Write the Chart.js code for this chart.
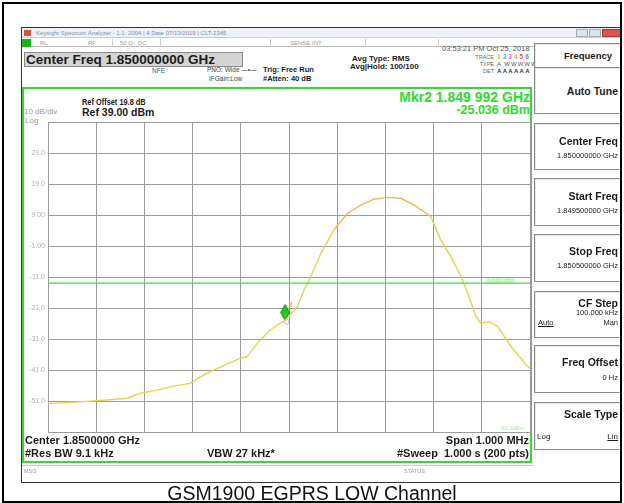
<!DOCTYPE html>
<html>
<head>
<meta charset="utf-8">
<script src="https://cdn.jsdelivr.net/npm/chart.js@4.4.0/dist/chart.umd.min.js"></script>
<style>
  body { margin: 0; width: 624px; height: 503px; position: relative; overflow: hidden; background: #fff;
         font-family: "Liberation Sans", Arial, sans-serif; color: #1c1c1c; }
  .a { position: absolute; white-space: nowrap; line-height: 1; }
  .b { font-weight: bold; }
  .r { text-align: right; }
  .faint { color: #9a9a9a; }
  .box { position: absolute; box-sizing: border-box; }
  .sk { position: absolute; left: 534px; width: 87px; box-sizing: border-box; border: 1px solid #8c8c8c;
        border-right: none; background: #fff; box-shadow: inset 1px 1px 0 #e4e4e4; }
  .skt { position: absolute; right: 3px; font-weight: bold; font-size: 10.5px; white-space: nowrap; line-height: 1; }
  .skv { position: absolute; right: 3px; font-size: 7.5px; white-space: nowrap; line-height: 1; }
  #wrap { position: absolute; left: 0; top: 0; width: 624px; height: 503px; }
</style>
</head>
<body>
<!-- analyzer screenshot -->
<div class="box" style="left:21px;top:27px;width:601px;height:456px;border:1px solid #333;background:#fff;"></div>
<div class="box" style="left:22px;top:28px;width:600px;height:10px;background:#eef2f7;border-bottom:1px solid #c8d0da;"></div>
<div class="box" style="left:24px;top:30px;width:7px;height:6px;background:#d0593a;"></div>
<div class="a" style="left:36px;top:30px;font-size:6px;color:#7f8fa8;">Keysight Spectrum Analyzer - 1.1: 2004 | 4 Date 07/13/2019 | CLT-2345</div>
<div class="box" style="left:576px;top:29px;width:12px;height:8px;background:#dde3ea;border:1px solid #aab;"></div>
<div class="box" style="left:589px;top:29px;width:12px;height:8px;background:#dde3ea;border:1px solid #aab;"></div>
<div class="box" style="left:602px;top:29px;width:19px;height:8px;background:#d9534f;border:1px solid #a33;"></div>
<div class="box" style="left:22px;top:39px;width:512px;height:8px;border-bottom:1px solid #bbb;"></div>
<div class="box" style="left:22px;top:39px;width:9px;height:8px;background:#17b517;"></div>
<div class="a faint" style="left:40px;top:40px;font-size:6px;">RL</div>
<div class="a faint" style="left:88px;top:40px;font-size:6px;">RF</div>
<div class="a faint" style="left:120px;top:40px;font-size:6px;">50 Ω&nbsp;&nbsp;&nbsp;DC</div>
<div class="a faint" style="left:290px;top:40px;font-size:6px;">SENSE:INT</div>
<div class="box" style="left:112px;top:39px;width:1px;height:8px;background:#ccc;"></div>
<div class="box" style="left:160px;top:39px;width:1px;height:8px;background:#ccc;"></div>
<div class="box" style="left:270px;top:39px;width:1px;height:8px;background:#ccc;"></div>
<div class="box" style="left:365px;top:39px;width:1px;height:8px;background:#ccc;"></div>
<div class="box" style="left:438px;top:39px;width:1px;height:8px;background:#ccc;"></div>
<div class="a" style="left:442px;top:45px;font-size:7.5px;color:#555;">03:53:21 PM Oct 25, 2018</div>

<div class="box" style="left:24px;top:52px;width:219px;height:15px;background:#d4d4d4;border:1px solid #8a8a8a;"></div>
<div class="a b" style="left:26px;top:53px;font-size:13.5px;">Center Freq 1.850000000 GHz</div>
<div class="a" style="left:152px;top:68px;font-size:6.5px;color:#555;">NFE</div>
<div class="a" style="left:207px;top:67px;font-size:6.5px;color:#444;">PNO: Wide &#8212;&#8226;&#8212;</div>
<div class="a" style="left:209px;top:76px;font-size:6.5px;color:#444;">IFGain:Low</div>
<div class="a b" style="left:263px;top:66px;font-size:7.5px;">Trig: Free Run</div>
<div class="a b" style="left:263px;top:75px;font-size:7.5px;">#Atten: 40 dB</div>
<div class="a b" style="left:352px;top:55px;font-size:8px;">Avg Type: RMS</div>
<div class="a b" style="left:350px;top:63px;font-size:8px;">Avg|Hold: 100/100</div>
<div class="a r" style="right:130px;top:55px;font-size:5.5px;color:#666;">TRACE</div>
<div class="a r" style="right:130px;top:62px;font-size:5.5px;color:#666;">TYPE</div>
<div class="a r" style="right:130px;top:69px;font-size:5.5px;color:#666;">DET</div>
<div class="a" style="left:497px;top:54px;font-size:6.5px;font-weight:bold;letter-spacing:2px;">
  <span style="color:#d8d040">1</span><span style="color:#40b8e0">2</span><span style="color:#e060e0">3</span><span style="color:#e0b040">4</span><span style="color:#e06060">5</span><span style="color:#8080e0">6</span></div>
<div class="a" style="left:497px;top:61px;font-size:6px;color:#555;letter-spacing:1px;">A WWWWW</div>
<div class="a b" style="left:497px;top:68px;font-size:6px;color:#333;letter-spacing:1.3px;">AAAAAA</div>

<!-- green display panel -->
<div class="box" style="left:22px;top:87px;width:510px;height:376px;border:2px solid #2fdc2f;"></div>
<div class="a b" style="left:82px;top:98px;font-size:8.5px;transform:scaleX(0.87);transform-origin:left;">Ref Offset 19.8 dB</div>
<div class="a b" style="left:82px;top:107px;font-size:10.5px;">Ref 39.00 dBm</div>
<div class="a faint" style="left:24px;top:108px;font-size:8px;">10 dB/div</div>
<div class="a faint" style="left:25px;top:117px;font-size:8px;">Log</div>
<div class="a b r" style="right:94px;top:90px;font-size:14px;color:#2fdc2f;">Mkr2 1.849 992 GHz</div>
<div class="a b r" style="right:94px;top:104px;font-size:12.5px;color:#2fdc2f;">-25.036 dBm</div>
<div class="a" style="left:486px;top:278px;font-size:5.5px;color:#a6e8a6;background:#dff7df;">-13.00 dBm</div>
<div class="a" style="left:500px;top:426px;font-size:5.5px;color:#a6e8a6;">-61.0dBm</div>

<div id="wrap"><canvas id="chart"></canvas></div>

<div class="a b" style="left:25px;top:435px;font-size:11px;">Center 1.8500000 GHz</div>
<div class="a b" style="left:25px;top:448px;font-size:11px;">#Res BW 9.1 kHz</div>
<div class="a b" style="left:207px;top:448px;font-size:11px;">VBW 27 kHz*</div>
<div class="a b r" style="right:95px;top:435px;font-size:11px;">Span 1.000 MHz</div>
<div class="a b r" style="right:95px;top:448px;font-size:11px;">#Sweep&nbsp; 1.000 s (200 pts)</div>

<div class="box" style="left:22px;top:465px;width:512px;height:17px;border-top:1px solid #ccc;"></div>
<div class="a faint" style="left:24px;top:469px;font-size:5.5px;">MSG</div>
<div class="a faint" style="left:404px;top:469px;font-size:5.5px;">STATUS</div>

<!-- softkey panel -->
<div class="sk" style="top:43px;height:25px;"><div class="skt" style="right:9px;top:7px;font-size:9.5px;">Frequency</div></div>
<div class="sk" style="top:67px;height:47px;"><div class="skt" style="top:18px;">Auto Tune</div></div>
<div class="sk" style="top:123px;height:47px;"><div class="skt" style="top:12px;">Center Freq</div><div class="skv" style="top:28px;">1.850000000 GHz</div></div>
<div class="sk" style="top:178px;height:48px;"><div class="skt" style="top:12px;">Start Freq</div><div class="skv" style="top:28px;">1.849500000 GHz</div></div>
<div class="sk" style="top:234px;height:48px;"><div class="skt" style="top:11px;">Stop Freq</div><div class="skv" style="top:27px;">1.850500000 GHz</div></div>
<div class="sk" style="top:291px;height:47px;"><div class="skt" style="top:6px;">CF Step</div><div class="skv" style="top:17px;">100.000 kHz</div>
  <div class="skv" style="top:27px;">Man</div><div class="a" style="left:3px;top:27px;font-size:7.5px;text-decoration:underline;">Auto</div></div>
<div class="sk" style="top:345px;height:48px;"><div class="skt" style="top:11px;">Freq Offset</div><div class="skv" style="top:28px;">0 Hz</div></div>
<div class="sk" style="top:402px;height:48px;"><div class="skt" style="top:6px;">Scale Type</div>
  <div class="a" style="left:2px;top:30px;font-size:8px;">Log</div><div class="skv" style="top:30px;font-size:8px;text-decoration:underline;">Lin</div></div>

<!-- outer frame and caption -->
<div class="box" style="left:2px;top:2px;width:620px;height:501px;border:2px solid #000;"></div>
<div class="a" style="left:0;width:624px;text-align:center;top:484px;font-size:19.5px;color:#111;">GSM1900 EGPRS LOW Channel</div>

<script>
// Trace 1, frequency offset from center (kHz) and level (dBm)
const freqOffsetKHz = [-500, -485, -426, -378, -336, -309, -274, -240, -205, -177, -149, -101, -87, -66, -39, -18, -8,
  17, 31, 45, 66, 93, 121, 149, 176, 204, 232, 260, 294, 315, 336, 357, 371, 388, 398, 415, 433, 461, 495, 500];
const traceDbm = [-51.8, -51.7, -51.2, -50.7, -50.1, -48.5, -47.5, -46.2, -45.3, -42.6, -40.5, -37.2, -36.7, -32.4, -28.1, -25.9, -25.0,
  -20.6, -15.2, -10.9, -3.4, 4.2, 9.5, 12.2, 14.1, 14.7, 14.4, 12.2, 8.5, 0.9, -4.5, -10.9, -16.3, -23.8, -25.9, -25.4, -27.0, -33.5, -39.9, -40.5];

// marker 2 and display line
const markerFreqKHz = [-8];
const markerDbm = [-25.036];
const limitFreqKHz = [-500, 500];
const limitDbm = [-13, -13];

// y axis: ref level 39 dBm, 10 dB/div
const yTickValues = [29, 19, 9, -1, -11, -21, -31, -41, -51];
const yTickLabels = ["29.0", "19.0", "9.00", "-1.00", "-11.0", "-21.0", "-31.0", "-41.0", "-51.0"];

/**
 * Green diamond marker drawn a little above its point, with the small
 * lavender ring on the trace itself
 */
function makeMarkerIcon() {
  const c = document.createElement("canvas");
  c.width = 24;
  c.height = 40;
  const g = c.getContext("2d");
  g.beginPath();
  g.moveTo(12, 4);
  g.lineTo(16.5, 12);
  g.lineTo(12, 20);
  g.lineTo(7.5, 12);
  g.closePath();
  g.fillStyle = "#1fcc1f";
  g.fill();
  g.strokeStyle = "#0c8c0c";
  g.lineWidth = 1;
  g.stroke();
  g.beginPath();
  g.arc(13.5, 21, 2.5, 0, Math.PI * 2);
  g.strokeStyle = "#b7a2e6";
  g.lineWidth = 1;
  g.stroke();
  return c;
}

const markerNumber = {
  id: "markerNumber",
  afterDatasetsDraw(chart) {
    const pt = chart.getDatasetMeta(2).data[0];
    if (!pt) return;
    const ctx = chart.ctx;
    ctx.save();
    ctx.font = "bold 8px 'Liberation Sans', Arial, sans-serif";
    ctx.fillStyle = "#f0a23a";
    ctx.fillText("2", pt.x + 3, pt.y - 14);
    ctx.restore();
  },
};

const gridColor = "#9c9c9c";

new Chart(document.getElementById("chart"), {
  type: "line",
  data: {
    datasets: [
      {
        label: "Display Line",
        data: limitFreqKHz.map((x, i) => ({ x: x, y: limitDbm[i] })),
        borderColor: "#3ee03e",
        borderWidth: 1.3,
        pointRadius: 0,
      },
      {
        label: "Trace 1",
        data: freqOffsetKHz.map((x, i) => ({ x: x, y: traceDbm[i] })),
        borderColor: "#e0d650",
        borderWidth: 1.4,
        pointRadius: 0,
        tension: 0,
        segment: {
          borderColor: (c) => (c.p0.parsed.y > 2 && c.p1.parsed.y > 2 ? "#f2b652" : "#e0d650"),
        },
      },
      {
        label: "Mkr2",
        data: markerFreqKHz.map((x, i) => ({ x: x, y: markerDbm[i] })),
        showLine: false,
        pointStyle: makeMarkerIcon(),
        pointRadius: 10,
      },
    ],
  },
  options: {
    animation: false,
    responsive: true,
    maintainAspectRatio: false,
    layout: { padding: { left: 28, top: 122, right: 94, bottom: 71 } },
    plugins: {
      legend: { display: false },
      tooltip: { enabled: false },
    },
    scales: {
      x: {
        type: "linear",
        min: -500,
        max: 500,
        ticks: { display: false, stepSize: 100 },
        grid: { color: gridColor, drawTicks: false },
        border: { color: gridColor },
        afterFit: (s) => { s.height = 0; },
      },
      y: {
        min: -61,
        max: 39,
        afterBuildTicks: (s) => {
          s.ticks = [-61].concat(yTickValues.slice().reverse(), [39]).map((v) => ({ value: v }));
        },
        ticks: {
          padding: 3,
          color: "#b3b3b3",
          font: { size: 7, family: "'Liberation Sans', Arial, sans-serif" },
          callback: (v) => {
            const i = yTickValues.indexOf(v);
            return i < 0 ? "" : yTickLabels[i];
          },
        },
        grid: { color: gridColor, drawTicks: false },
        border: { color: gridColor },
        afterFit: (s) => { s.width = 20; },
      },
    },
  },
  plugins: [markerNumber],
});
</script>
</body>
</html>
